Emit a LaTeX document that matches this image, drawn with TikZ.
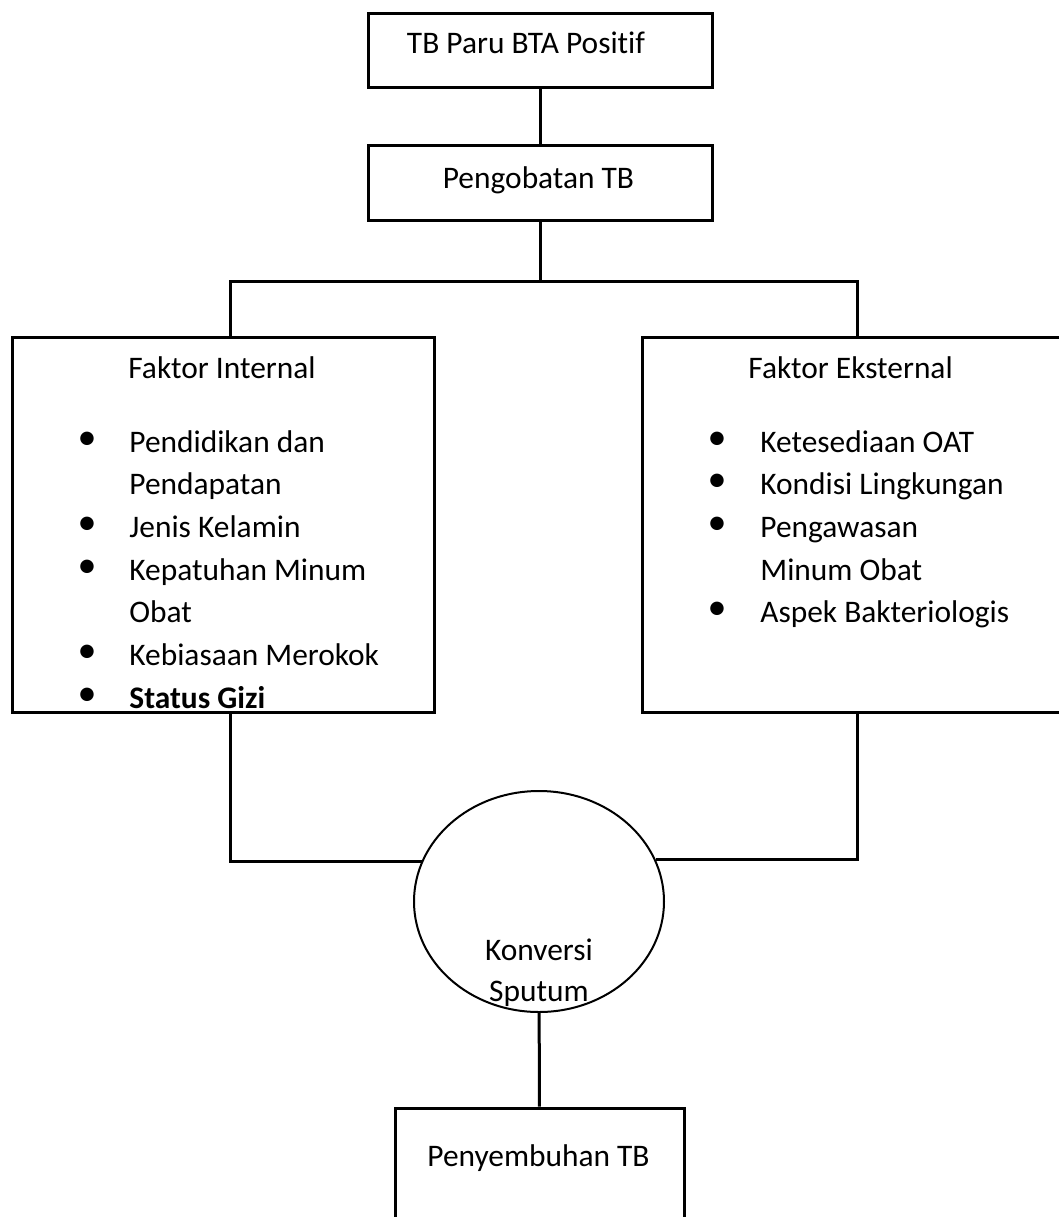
\documentclass[tikz,border=0pt]{standalone}
\usepackage{fontspec}
\setmainfont{Carlito}[Ligatures=NoCommon]
\usetikzlibrary{shapes.geometric}

\def\px{0.5pt}
\tikzset{
  kotak/.style={draw, rectangle, line width=1.5pt, inner sep=0pt},
  garis/.style={line width=1.5pt},
  teks/.style={anchor=base west, inner sep=0pt, font=\fontsize{15.7pt}{19pt}\selectfont},
  teksc/.style={anchor=base, inner sep=0pt, font=\fontsize{15.7pt}{19pt}\selectfont},
  butir/.style={inner sep=0pt, text height=6pt, text depth=0pt, font=\fontsize{19pt}{19pt}\selectfont}
}

\begin{document}
\begin{tikzpicture}[x=0.5pt, y=-0.5pt]
  \useasboundingbox (0,0) rectangle (1059,1217);
  \clip (0,0) rectangle (1059,1217);

  % kotak-kotak
  \node[kotak, minimum width=344*\px, minimum height=74*\px] (paru) at (540,50) {};
  \node[teksc] (tparu) at (526,53) {TB Paru BTA Positif};
  \node[kotak, minimum width=344*\px, minimum height=75*\px] (obat) at (540,182.5) {};
  \node[teksc] (tobat) at (538.5,188) {Pengobatan TB};
  \node[kotak, minimum width=422*\px, minimum height=375*\px] (intern) at (223,525) {};
  \node[kotak, minimum width=460*\px, minimum height=375*\px] (ekstern) at (872,525) {};
  \node[draw, ellipse, line width=1pt, inner sep=0pt,
        minimum width=250*\px, minimum height=221*\px] (konversi) at (539,901.5) {};
  \node[kotak, minimum width=289*\px, minimum height=160*\px] (sembuh) at (539.5,1188) {};

  % faktor internal
  \node[teks] (tintern) at (128,378) {Faktor Internal};
  \foreach \y/\t [count=\i] in {452/Pendidikan dan, 494.7/Pendapatan, 537.4/Jenis Kelamin,
      580.1/Kepatuhan Minum, 622.8/Obat, 665.5/Kebiasaan Merokok, 708.2/\textbf{Status Gizi}}
    \node[teks] (li\i) at (129,\y) {\t};
  \foreach \y [count=\i] in {452,537.4,580.1,665.5,708.2}
    \node[butir, anchor=base] (lb\i) at (87,\y-3) {•};

  % faktor eksternal
  \node[teks] (tekstern) at (748,378) {Faktor Eksternal};
  \foreach \y/\t [count=\i] in {452/Ketesediaan OAT, 494.7/Kondisi Lingkungan, 537.4/Pengawasan,
      580.1/Minum Obat, 622.8/Aspek Bakteriologis}
    \node[teks] (ri\i) at (760,\y) {\t};
  \foreach \y [count=\i] in {452,494.7,537.4,622.8}
    \node[butir, anchor=base] (rb\i) at (717,\y-3) {•};

  \node[teksc] (tkonv1) at (539,960) {Konversi};
  \node[teksc] (tkonv2) at (539,1001) {Sputum};
  \node[teksc] (tsembuh) at (538.5,1166) {Penyembuhan TB};

  % garis penghubung
  \coordinate (simpang) at (540,281);
  \coordinate (kiri) at (230,281);
  \coordinate (kanan) at (857,281);
  \draw[garis] (paru) -- (obat);
  \draw[garis] (obat.south) -- (simpang);
  \draw[garis] (intern.north -| kiri) -- (kiri) -- (kanan) -- (ekstern.north -| kanan);
  \draw[garis] (intern.south -| kiri) |- (konversi.161.8);
  \draw[garis] (ekstern.south -| kanan) |- (konversi.20.7);
  \draw[garis] (konversi) -- (sembuh);
\end{tikzpicture}
\end{document}
